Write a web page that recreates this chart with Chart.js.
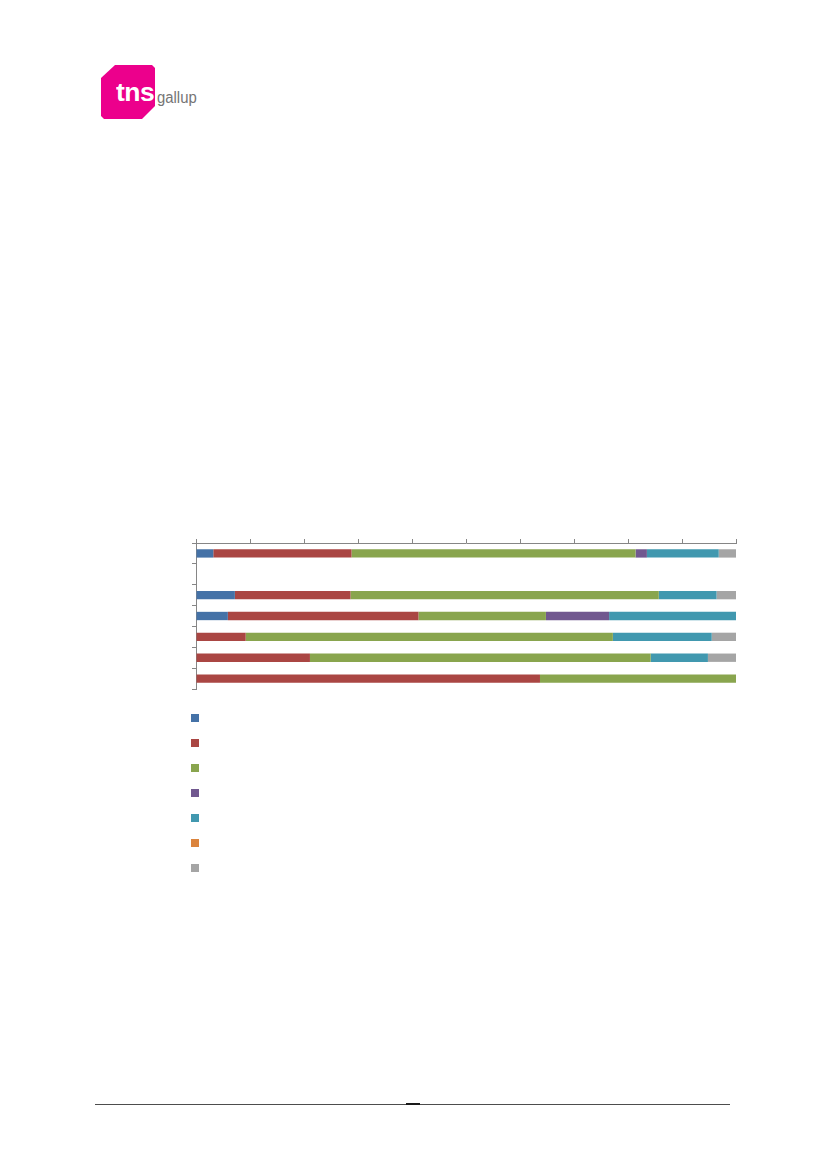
<!DOCTYPE html>
<html>
<head>
<meta charset="utf-8">
<script src="https://cdn.jsdelivr.net/npm/chart.js@4/dist/chart.umd.min.js"></script>
<style>
  body { margin: 0; background: #fff; }
  .page { position: relative; width: 827px; height: 1169px; overflow: hidden; }
  .logo { position: absolute; left: 101px; top: 65px; width: 54px; height: 54px; background: #ec008c;
          clip-path: polygon(14px 0, 51px 0, 54px 3px, 54px 41px, 41px 54px, 3px 54px, 0 51px, 0 13px); }
  .tns { position: absolute; left: 116px; top: 78px; font: bold 25px "Liberation Sans", Arial, sans-serif;
         color: #fff; letter-spacing: -0.5px; transform: scaleX(1.06); transform-origin: left top; }
  .gallup { position: absolute; left: 157px; top: 89px; font: 16px "Liberation Sans", Arial, sans-serif;
            color: #757575; transform: scaleX(0.93); transform-origin: left top; }
  #box { position: absolute; left: 186px; top: 533px; width: 560px; height: 166px; }
  .key { position: absolute; left: 191px; width: 8px; height: 8px; }
  .rule { position: absolute; left: 95px; top: 1104px; width: 635px; height: 1px; background: #4d4d4d; }
  .rule2 { position: absolute; left: 406px; top: 1103px; width: 14px; height: 2px; background: #1a1a1a; }
</style>
</head>
<body>
<div class="page">
  <div class="logo"></div>
  <div class="tns">tns</div>
  <div class="gallup">gallup</div>
  <div id="box"><canvas id="chart"></canvas></div>
  <div id="legend"></div>
  <div class="rule"></div>
  <div class="rule2"></div>
</div>
<script>
// rows top to bottom, row 2 is empty
const categories = ['1', '2', '3', '4', '5', '6', '7'];
const seriesNames = ['Serie 1', 'Serie 2', 'Serie 3', 'Serie 4', 'Serie 5', 'Serie 6', 'Serie 7'];
const colors = ['#4572a7', '#aa4643', '#89a54e', '#71588f', '#4198af', '#db843d', '#a5a5a5'];

const s1 = [3.2, null, 7.2, 5.9, 0, 0, 0];
const s2 = [25.6, null, 21.4, 35.3, 9.2, 21.1, 63.7];
const s3 = [52.6, null, 57.1, 23.6, 68.0, 63.1, 36.3];
const s4 = [2.1, null, 0, 11.7, 0, 0, 0];
const s5 = [13.3, null, 10.7, 23.5, 18.3, 10.6, 0];
const s6 = [0, null, 0, 0, 0, 0, 0];
const s7 = [3.2, null, 3.6, 0, 4.5, 5.2, 0];
const seriesValues = [s1, s2, s3, s4, s5, s6, s7];

const xTicksMin = 0, xTicksMax = 100, xStep = 10;

const axisGray = '#868686';

const ctx = document.getElementById('chart').getContext('2d');
const chart = new Chart(ctx, {
  type: 'bar',
  data: {
    labels: categories,
    datasets: seriesValues.map((vals, i) => ({
      label: seriesNames[i],
      data: vals,
      backgroundColor: colors[i],
      borderWidth: 0,
      barPercentage: 0.4,
      categoryPercentage: 1
    }))
  },
  options: {
    indexAxis: 'y',
    responsive: true,
    maintainAspectRatio: false,
    animation: false,
    layout: { padding: { top: 0, right: 10, bottom: 10, left: 0 } },
    plugins: { legend: { display: false }, tooltip: { enabled: false } },
    scales: {
      x: {
        position: 'top',
        stacked: true,
        min: xTicksMin,
        max: xTicksMax,
        ticks: { display: false, stepSize: xStep },
        grid: { drawOnChartArea: false, drawTicks: true, tickLength: 4, color: axisGray, lineWidth: 1 },
        border: { display: true, color: axisGray, width: 1 },
        afterFit: s => { s.height = 10; }
      },
      y: {
        stacked: true,
        ticks: { display: false },
        grid: { drawOnChartArea: false, drawTicks: true, tickLength: 4, color: axisGray, lineWidth: 1, offset: true },
        border: { display: true, color: axisGray, width: 1 },
        afterFit: s => { s.width = 10; }
      }
    }
  }
});

// legend markers only (no label text in the source)
const legend = document.getElementById('legend');
colors.forEach((c, i) => {
  const d = document.createElement('div');
  d.className = 'key';
  d.style.top = (714 + i * 25) + 'px';
  d.style.background = c;
  legend.appendChild(d);
});
</script>
</body>
</html>
